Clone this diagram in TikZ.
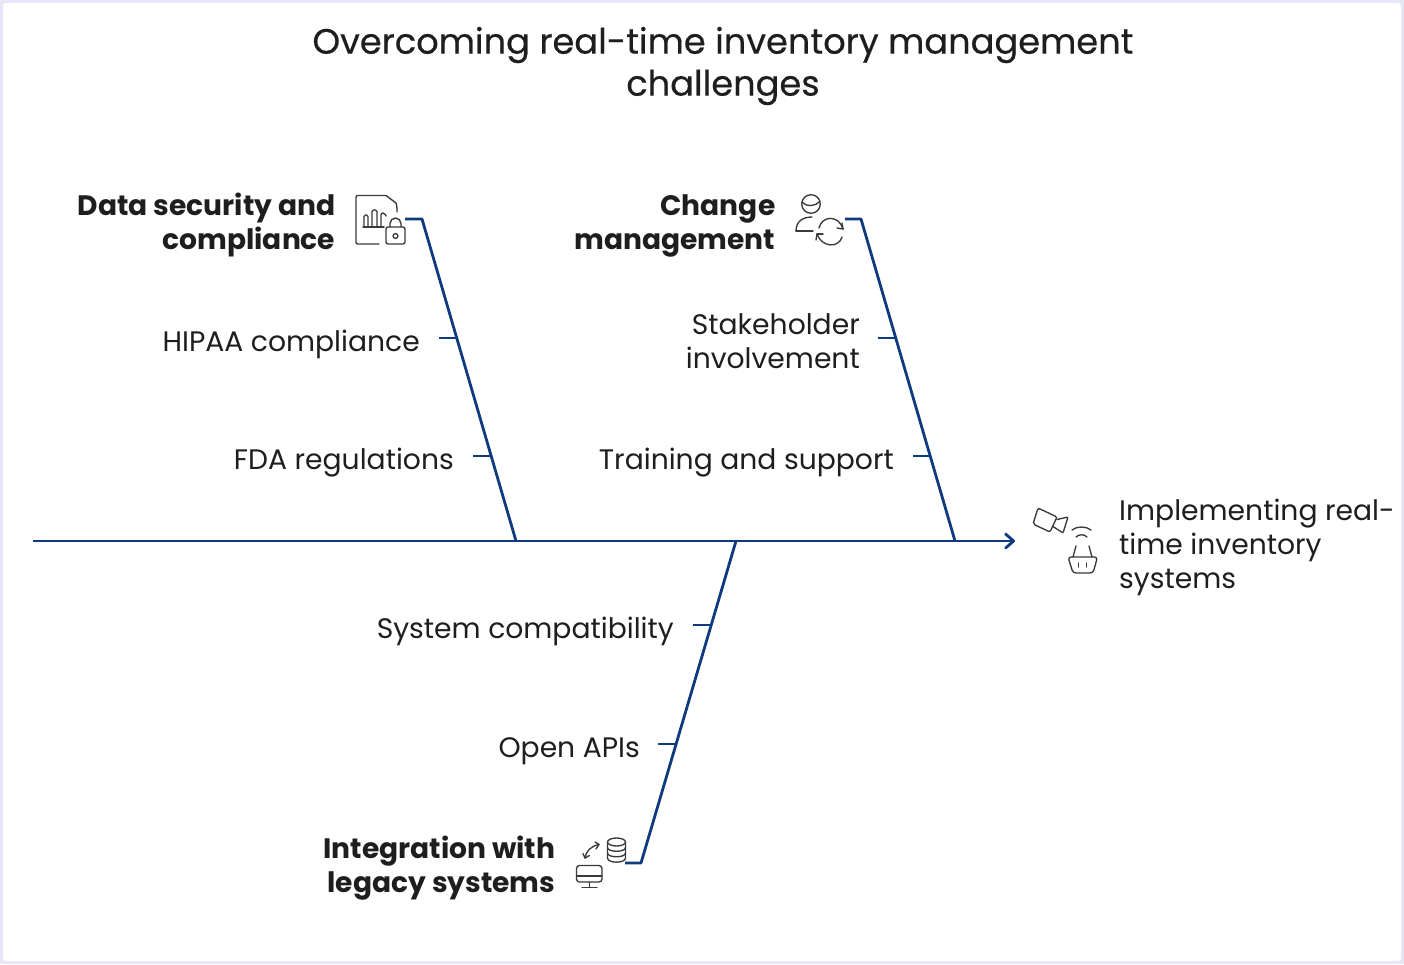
\documentclass[tikz,border=0pt]{standalone}
\usepackage{fontspec}
\setmainfont{Poppins}
\newfontfamily\ttlfont[FakeBold=0.45]{Poppins}
\usetikzlibrary{arrows.meta}
\definecolor{bonec}{HTML}{0F3A7D}
\definecolor{inkc}{HTML}{1E1E1E}
\definecolor{iconc}{HTML}{3A3A3A}
\definecolor{framec}{HTML}{E6E6F6}
\tikzset{
 x=1pt,y=-1pt,
 bone/.style={draw=bonec,line width=2.8pt,line join=round},
 icon/.style={draw=iconc,line width=1.35pt,line cap=round,line join=round},
 lab/.style={inner sep=0pt,text=inkc,anchor=east,align=right,font=\fontsize{28.2}{34}\selectfont},
 head/.style={inner sep=0pt,text=inkc,anchor=east,align=right,font=\fontsize{28.1}{34}\selectfont\bfseries},
 ttl/.style={inner sep=0pt,text=inkc,align=center,font=\ttlfont\fontsize{35.2}{42}\selectfont},
}
\begin{document}
\begin{tikzpicture}
\useasboundingbox (0,0) rectangle (1404,964);
\fill[framec] (0,0) rectangle (1404,964);
\fill[white,rounded corners=3pt] (3,3) rectangle (1401,961);
\node[ttl] (title) at (723,66) {Overcoming real-time inventory management\\challenges};
% spine
\coordinate (sL) at (33,541);
\coordinate (sR) at (1015,541);
\coordinate (j1) at (516,541);
\coordinate (j2) at (955,541);
\coordinate (j3) at (736,541);
\draw[bone,-{Straight Barb[length=8pt,width=14pt,line width=2.8pt,round]}] (sL) -- (sR);
% bones
\coordinate (b1) at (422,219); \coordinate (e1) at (405,219);
\coordinate (b2) at (861,219); \coordinate (e2) at (845,219);
\coordinate (b3) at (641,863); \coordinate (e3) at (625,863);
\draw[bone] (j1) -- (b1) -- (e1);
\draw[bone] (j2) -- (b2) -- (e2);
\draw[bone] (j3) -- (b3) -- (e3);
% labels
\node[head] (h1) at (335.5,225) {Data security and\\compliance};
\node[head] (h2) at (775.5,226) {Change\\management};
\node[head] (h3) at (555.5,868) {Integration with\\legacy systems};
\node[lab] (a1) at (420,344) {HIPAA compliance};
\node[lab] (a2) at (454,463) {FDA regulations};
\node[lab] (a3) at (860,341) {Stakeholder\\involvement};
\node[lab] (a4) at (894,463) {Training and support};
\node[lab] (a5) at (674,631) {System compatibility};
\node[lab] (a6) at (640,751) {Open APIs};
\node[lab,anchor=west,align=left] (eff) at (1119,547) {Implementing real-\\time inventory\\systems};
% ticks
\coordinate (t1a) at (439,338); \coordinate (t1b) at (457,338);
\coordinate (t2a) at (473,456); \coordinate (t2b) at (491,456);
\coordinate (t3a) at (878,338); \coordinate (t3b) at (897,338);
\coordinate (t4a) at (913,456); \coordinate (t4b) at (931,456);
\coordinate (t5a) at (693,625); \coordinate (t5b) at (711,625);
\coordinate (t6a) at (658,744); \coordinate (t6b) at (677,744);
\foreach \p in {1,...,6} \draw[bone] (t\p a) -- (t\p b);
% icon: document with chart and lock
\draw[icon] (379,244) -- (358,244) .. controls (356.5,244) and (356,243.5) .. (356,242) -- (356,197.5) .. controls (356,196) and (356.5,195.5) .. (358,195.5) -- (386,195.5) -- (396,203) .. controls (396.5,204) and (397,206) .. (397,212);
\draw[icon] (363,227) -- (384,227);
\draw[icon,rounded corners=1.5pt] (364,227) -- (364,215) -- (368,215) -- (368,227);
\draw[icon,rounded corners=1.5pt] (372,227) -- (372,210) -- (377,210) -- (377,227);
\draw[icon,rounded corners=2pt] (381,227) -- (381,213) -- (385,213) -- (386,216);
\draw[icon,rounded corners=2pt] (386,227) rectangle (405,244);
\draw[icon] (390,227) -- (390,223.5) arc[start angle=180,end angle=360,radius=5.5] -- (401,227);
\draw[icon] (395.5,236) circle[radius=2.4];
% icon: person and cycle
\draw[icon] (811,204) circle[radius=9.3];
\draw[icon] (802,202) .. controls (806,207) and (815,207) .. (820,201);
\draw[icon] (796,231) .. controls (796,222) and (802,217) .. (812,217);
\draw[icon] (796,231) -- (813,231);
\draw[icon] (819,228) .. controls (822,215) and (839,215) .. (843,229);
\draw[icon] (843,229) -- (842,223);
\draw[icon] (843,229) -- (837,228);
\draw[icon] (842,237) .. controls (839,248) and (822,248) .. (817,234);
\draw[icon] (817,234) -- (816,240);
\draw[icon] (817,234) -- (823,234);
% icon: camera and basket
\draw[icon,rounded corners=2pt] (1038,508) -- (1057,517) -- (1050,532) -- (1033,524) -- cycle;
\draw[icon,rounded corners=1pt] (1057,519.5) -- (1068,517) -- (1063,533) -- (1053,526.5);
\draw[icon] (1072,530) .. controls (1077,526) and (1086,526) .. (1091,530);
\draw[icon] (1076,537) .. controls (1079,534) and (1084,534) .. (1087,537);
\draw[icon] (1073,557) -- (1076,546);
\draw[icon] (1092,557) -- (1089,546);
\draw[icon,rounded corners=3pt] (1068,557) -- (1097.5,557) -- (1093,573) -- (1073,573) -- cycle;
\draw[icon] (1078.5,563) -- (1078.5,567);
\draw[icon] (1086.5,563) -- (1086.5,567);
% icon: database, arrows, monitor
\draw[icon] (616.5,842) ellipse[x radius=9,y radius=4];
\draw[icon] (607.5,842) -- (607.5,858) .. controls (607.5,863.5) and (625.5,863.5) .. (625.5,858) -- (625.5,842);
\draw[icon] (607.5,847.5) .. controls (607.5,852.5) and (625.5,852.5) .. (625.5,847.5);
\draw[icon] (607.5,853) .. controls (607.5,858) and (625.5,858) .. (625.5,853);
\draw[icon] (585,858) .. controls (586,851) and (591,846) .. (599,844.5);
\draw[icon] (599,844.5) -- (595,842);
\draw[icon] (599,844.5) -- (596,849);
\draw[icon] (585,858) -- (583,853.5);
\draw[icon] (585,858) -- (589.5,855.5);
\draw[icon,rounded corners=3pt] (576.5,865.5) rectangle (602,882);
\draw[icon] (576.5,876) -- (602,876);
\draw[icon] (589.5,882) -- (589.5,887);
\draw[icon] (582,887.5) -- (597,887.5);
\end{tikzpicture}
\end{document}
